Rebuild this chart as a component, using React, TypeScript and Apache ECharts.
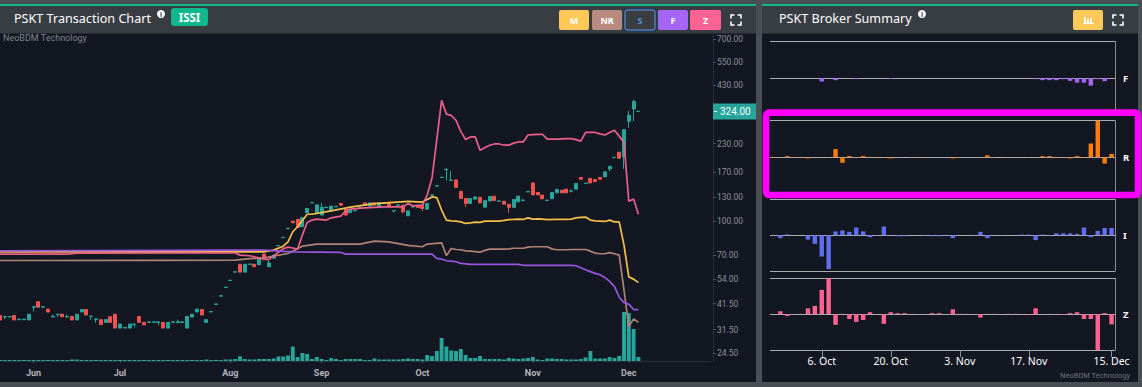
import React, { useEffect, useRef } from "react";
import * as echarts from "echarts";

// ---------- main chart data ----------
const priceTicks = [24.5, 31.5, 41.5, 54, 70, 100, 130, 170, 230, 430, 550, 700];
const monthLabels: Record<number, string> = { 7: "Jun", 25: "Jul", 48: "Aug", 67: "Sep", 88: "Oct", 111: "Nov", 131: "Dec" };
const categoryCount = 149;

// open, close, low, high
const candles = [
  [36.6,34.9,34.9,36.6],[36.0,36.2,35.2,36.2],[36.0,36.2,36.0,36.2],[36.6,34.9,34.9,36.6],[35.0,35.2,35.0,35.2],
  [35.0,35.2,35.0,35.2],[34.9,37.1,34.9,37.1],[40.0,40.2,38.2,40.2],[42.4,40.0,40.0,42.4],[40.0,40.2,40.0,40.2],
  [39.2,38.0,38.0,39.2],[36.0,36.2,36.0,37.0],[36.9,37.1,36.1,37.1],[37.1,36.1,36.1,37.1],[36.0,36.2,36.0,37.0],
  [36.2,34.9,34.9,36.2],[34.9,37.1,34.9,37.1],[38.0,39.0,38.0,39.0],[39.0,36.8,36.8,39.0],[36.2,36.4,34.9,36.4],
  [35.1,35.3,33.8,35.3],[35.0,33.2,33.2,35.0],[34.0,35.0,34.0,35.0],[36.1,34.0,34.0,36.1],[37.1,32.0,32.0,37.1],
  [32.0,33.4,32.0,33.4],[32.0,32.2,32.0,32.2],[32.0,33.4,32.0,33.4],[33.2,33.4,32.2,33.4],[36.2,34.0,34.0,36.2],
  [34.0,33.1,33.1,34.0],[34.0,34.2,34.0,34.2],[34.0,34.2,34.0,34.2],[34.0,34.2,33.0,34.2],[34.0,32.0,32.0,34.0],
  [32.0,34.0,32.0,34.0],[34.0,34.2,34.0,34.2],[34.0,34.2,34.0,35.0],[34.0,34.2,34.0,34.2],[32.0,36.2,32.0,36.2],
  [36.0,37.1,36.0,37.1],[38.0,39.2,38.0,39.2],[39.0,36.8,36.8,39.0],[34.0,35.0,34.0,35.0],[38.0,38.2,38.0,38.2],
  [41.2,41.4,41.2,41.4],[45.0,45.2,45.0,45.2],[49.4,49.6,49.4,49.6],[53.2,53.4,53.2,53.4],[58.2,58.4,58.2,58.4],
  [63.3,58.2,58.2,63.3],[58.2,63.3,58.2,63.3],[63.2,63.5,63.2,63.5],[63.3,61.6,61.6,63.3],[63.0,68.1,63.0,68.1],
  [70.6,67.5,66.0,70.6],[61.6,64.2,61.6,66.0],[67.5,69.9,67.5,69.9],[77.1,77.4,77.1,77.4],[84.1,84.4,84.1,84.4],
  [92.6,93.0,92.6,93.0],[100.5,98.6,98.6,100.5],[102.2,93.8,93.8,102.2],[94.5,104.0,94.5,104.0],[109.8,114.9,109.8,114.9],
  [122.0,122.5,122.0,122.5],[109.8,119.5,109.8,119.5],[107.1,116.2,107.1,122.0],[116.0,116.5,116.0,116.5],[112.0,117.8,112.0,117.8],
  [117.0,117.5,117.0,117.5],[121.2,119.0,119.0,121.2],[113.7,107.1,107.1,113.7],[109.8,113.7,109.8,113.7],[112.0,112.4,112.0,112.4],
  [116.0,116.4,116.0,116.4],[122.0,119.0,119.0,122.0],[117.8,122.0,117.8,122.0],[122.0,119.0,119.0,122.0],[116.2,122.0,116.2,122.0],
  [121.0,121.4,121.0,121.4],[122.0,117.0,117.0,122.0],[112.0,112.4,110.0,112.4],[119.0,119.4,119.0,119.4],[119.0,110.9,109.0,119.0],
  [106.3,112.0,106.3,112.0],[116.8,117.2,116.0,117.2],[119.0,116.2,116.2,119.0],[119.0,114.9,112.0,119.0],[114.0,121.2,114.0,121.2],
  [132.4,132.8,132.4,132.8],[146.0,146.4,146.0,146.4],[160.0,160.5,160.0,160.5],[174.0,175.0,155.0,175.0],[155.0,155.6,155.0,172.0],
  [156.0,144.0,144.0,156.0],[138.0,128.0,128.0,138.0],[127.9,121.2,117.0,127.9],[121.2,127.9,121.2,127.9],[127.0,130.0,127.0,130.0],
  [129.5,122.0,122.0,129.5],[116.5,125.0,116.5,125.0],[124.5,130.5,124.5,130.5],[131.0,125.0,125.0,131.0],[124.1,124.6,124.1,124.6],
  [124.1,120.3,120.3,124.1],[120.3,116.3,109.7,120.3],[116.3,126.5,116.3,126.5],[123.4,131.2,123.4,131.2],[125.0,125.5,125.0,127.5],
  [137.2,137.8,137.2,137.8],[151.0,132.8,132.8,151.0],[136.3,132.8,132.8,136.3],[132.5,127.5,127.5,132.5],[125.1,125.6,125.1,125.6],
  [127.5,136.3,127.5,136.3],[135.8,140.7,135.8,142.0],[139.8,135.8,135.8,139.8],[141.3,135.8,135.8,141.3],[138.2,138.7,136.5,141.0],
  [141.3,150.0,141.3,150.0],[160.1,157.0,157.0,160.1],[150.0,150.6,150.0,150.6],[158.3,151.0,151.0,158.3],[156.5,153.2,153.2,156.5],
  [160.1,157.1,157.1,160.1],[161.2,169.9,161.2,169.9],[175.5,180.4,170.6,180.4],[197.9,198.5,197.9,198.5],[209.6,196.5,196.5,209.6],
  [199.4,266.9,175.5,266.9],[291.8,311.0,272.6,325.8],[332.8,361.0,292.8,367.6],[324.0,325.0,324.0,325.0],
];

const volumes = [
  1,1,1,1,1,1,1,1,1,1,1,1,1,1,1,1.5,1.5,1,1,1,1,1,1,1,1,1,1,1,1,1,
  1,1,1,1,1,1,1,1,1,1,1,1,1,1.5,1,1,1,1.5,1.5,2,4.7,2,1.5,1.5,2,2,2,2.5,4.5,4.5,
  5.5,14.5,4,8,7,2,4,2,1,3,2,1,2,2,2,2,1,1,2.5,1.5,1.5,1.5,1.5,1.5,2,2.5,2,2,1.5,6,
  5,10,23,14.5,10.5,10,12,6,3,3,5,2,2,2,2,1.5,3,2.5,2,2.5,3,4,1.5,1,2.5,2.5,2,2,1.5,1.5,
  1.5,2,3.5,10,2.5,2.5,2.5,4,3,5,49,48,32,4,
];

const yellowLine = [[0,72.3],[55,72.3],[57,73.6],[59,76.8],[60,80.5],[61,89.6],[62,94.5],[64,108],[65,108],[69,112],[73,116.5],[78,121],[85,124],[88,123],[90,130],[91,129],[92,113],[93,101.5],[94,100.7],[95,100.4],[96,99.6],[97,97.9],[98,98.5],[99,99.3],[100,99],[101,100.4],[104,100.4],[105,101.1],[106,101.9],[107,102.2],[108,102.6],[109,102.2],[110,103.9],[111,102.6],[112,102.8],[113,102.6],[114,101.9],[116,102.2],[118,102.2],[119,102.6],[120,103.9],[121,104.4],[122,104.8],[123,101.5],[124,100.7],[125,100.4],[126,100],[127,101.5],[128,99.6],[129,99.6],[130,77.7],[131,55.3],[132,54],[133,52]];
const brownLine = [[0,65.9],[30,66],[49,66.2],[52,67.2],[55,67.7],[60,71],[63,76.8],[66,78.5],[75,78.5],[78,81],[81,80.4],[85,77.5],[88,76.3],[89,78.5],[92,79.6],[93,69.4],[94,74.9],[95,74.1],[96,73.9],[97,73],[98,72.8],[99,72.5],[100,72],[101,73.4],[102,74.4],[105,74.4],[106,74.6],[107,75.1],[109,75.1],[110,76],[111,76.3],[114,76.3],[115,74.6],[116,73.9],[118,73.9],[119,74.1],[122,74.1],[123,72.8],[124,71.3],[125,70.8],[126,70.8],[127,71.7],[128,70.8],[129,69.8],[130,48],[131,32.5],[132,35.3],[133,34]];
const purpleLine = [[0,73],[50,73.6],[55,73.6],[61,72.3],[71,71.8],[72,70.5],[90,70.5],[91,67.4],[92,66.9],[93,65.7],[94,65.5],[95,65],[96,63.9],[97,63.6],[98,63.2],[108,63.2],[109,62.6],[119,62.6],[120,62.3],[121,61],[122,59.7],[123,58.5],[124,57.4],[125,56.6],[126,55],[127,52.7],[128,50],[129,44.5],[130,42],[131,41.3],[132,39],[133,39]];
const pinkLine = [[0,70.5],[14,70.5],[16,71.2],[48,71.4],[49,71.4],[50,69.8],[52,69.3],[55,66.9],[56,66.5],[57,69.1],[58,72],[59,74.8],[60,76],[61,75.3],[62,74.4],[63,86.5],[64,99],[65,101.5],[66,102.6],[68,101.5],[69,104],[71,105.8],[72,112],[73,114.2],[76,115.7],[80,116.9],[84,116.9],[85,121],[86,118.2],[88,119],[89,132.6],[90,159],[91,240],[92,365],[93,315],[94,311],[95,295],[96,262],[97,240],[98,247],[99,247],[100,214],[101,220],[102,226],[103,229],[104,229],[105,226],[106,226],[107,231],[108,234],[109,234],[110,252],[111,253],[112,254],[113,254],[114,241],[115,241],[116,241],[117,242],[118,242.5],[119,242.5],[120,240],[121,236],[122,259],[123,259],[124,259],[125,255],[126,252],[127,259],[128,265],[129,249],[130,233],[131,124],[132,127],[133,108]];

// ---------- broker summary data ----------
const brokerLabels: Record<number, string> = { 7: "6. Oct", 17: "20. Oct", 27: "3. Nov", 37: "17. Nov", 49: "15. Dec" };
const brokerCount = 50;
const fBars = [0,0,0,0,0,0,0,-3.3,0,-2,0,0,-1,0,0,0,0,-0.7,0,0,0,0,0,0,0,0,0,0,0,0,0,0,0,0,0,0,0,0,-1,-2,-2,-2,-1,-2.7,-4.5,-4.5,-7.5,-1,-3,0];
const rBars = [-0.5,0,1.2,0.3,0.4,-1,0,0,0.3,8.3,-5.5,1.3,0.3,1.3,0.3,0.4,0.3,-1,0,0,0.3,0.3,0,0,0,0,-1,0.3,0,0,0,2,0.3,0,0.3,0,0,0.3,0,1.2,1.2,0.4,0.3,-1,1.2,0.3,14,37,-6.3,3.5];
const iBars = [0,-3,1,0,0,-4.5,-9,-22,-35,4,5,3.5,8,4,-2,0.3,9,0,-1,-1,0,0,0.3,-1,-1,0.3,-3,0,0,0.3,3.5,-3,0,0.3,0,0,0.7,0.7,-5,0.7,0.3,2,2,2,1.5,8,-2,4.5,7.5,7.5];
const zBars = [0,3,-2,0,0.3,6,8.5,25,37,-11,0.3,-5,-8,-6,2,0,-10,2,1,1,0.3,0,0,1,1,0,5,0.3,0.3,0,-3.5,0.3,0.3,0,0.3,0.3,0,-0.7,6,0,0.3,0,-0.7,1,2,-5,-5,-37,1,-10.5];

const UI_FONT = "'Noto Sans', sans-serif";
const AXIS_FONT = "Roboto, sans-serif";
const PANEL = "#131722";
const HEADER = "#383c43";
const GAP = "#4a4f56";
const TEAL = "#26a69a";
const RED = "#ef5350";

const categories = Array.from({ length: categoryCount }, (_, i) => monthLabels[i] ?? "");
const brokerCats = Array.from({ length: brokerCount }, (_, i) => brokerLabels[i] ?? "");

function info(x: number, y: number) {
  return [
    { type: "circle", z: 5, shape: { cx: x, cy: y, r: 4 }, style: { fill: "#fff" } },
    { type: "text", z: 6, x, y, style: { text: "i", fill: HEADER, font: `bold 7px ${UI_FONT}`, align: "center", verticalAlign: "middle" } },
  ];
}
function fullscreen(x: number, y: number, s: number) {
  const c = 3.5;
  const pl = (pts: number[][]) => ({ type: "polyline", z: 5, shape: { points: pts }, style: { stroke: "#fff", lineWidth: 1.6, fill: "none" } });
  return [
    pl([[x, y + c], [x, y], [x + c, y]]),
    pl([[x + s - c, y], [x + s, y], [x + s, y + c]]),
    pl([[x, y + s - c], [x, y + s], [x + c, y + s]]),
    pl([[x + s - c, y + s], [x + s, y + s], [x + s, y + s - c]]),
  ];
}
function button(x: number, w: number, fill: string, text: string) {
  return [
    { type: "rect", z: 5, shape: { x, y: 10, width: w, height: 20, r: 2 }, style: { fill } },
    { type: "text", z: 6, x: x + w / 2, y: 20, style: { text, fill: "#fff", font: `bold 9px ${UI_FONT}`, align: "center", verticalAlign: "middle" } },
  ];
}

function brokerGrid(top: number, bottom: number) {
  return { left: 770, width: 345, top, height: bottom - top };
}
function brokerY(gridIndex: number, name: string) {
  return {
    type: "value", gridIndex, position: "right", min: -37, max: 37, interval: 37,
    name, nameLocation: "middle", nameRotate: 0, nameGap: 8,
    nameTextStyle: { color: "#fff", fontSize: 9.5, fontWeight: "bold", fontFamily: UI_FONT },
    axisLine: { show: true, lineStyle: { color: "#8b8f96", width: 1 } },
    axisTick: { show: false }, axisLabel: { show: false },
    splitLine: { show: true, lineStyle: { color: "#a9acb1", width: 1 } },
  };
}
function brokerX(gridIndex: number, labelled: boolean) {
  const pick = (_: number, v: string) => v !== "";
  return {
    type: "category", gridIndex, data: brokerCats, boundaryGap: true, position: "bottom",
    axisLine: { show: false, onZero: false },
    axisTick: labelled ? { show: true, alignWithLabel: true, length: 7, interval: pick, lineStyle: { color: "#8b8f96" } } : { show: false },
    axisLabel: labelled ? { show: true, interval: pick, color: "#fff", fontSize: 10.5, fontFamily: UI_FONT, margin: 5 } : { show: false },
    splitLine: { show: false },
  };
}
function brokerSeries(idx: number, data: number[], color: string) {
  return { type: "bar", xAxisIndex: idx, yAxisIndex: idx + 1, data, barWidth: 4.4, itemStyle: { color }, silent: true };
}
function lineSeries(data: number[][], color: string, name: string) {
  return { type: "line", name, data, xAxisIndex: 0, yAxisIndex: 0, showSymbol: false, symbol: "none", lineStyle: { color, width: 1.7 }, silent: true };
}

export default function App() {
  const ref = useRef<HTMLDivElement | null>(null);
  useEffect(() => {
    document.body.style.margin = "0";
    document.body.style.background = GAP;
    const chart = echarts.init(ref.current!, undefined, { renderer: "svg" });
    const graphics: any[] = [
      // panels
      { type: "rect", z: 0, shape: { x: 0, y: 4, width: 756, height: 378, r: [3, 3, 0, 0] }, style: { fill: PANEL } },
      { type: "rect", z: 0, shape: { x: 0, y: 4, width: 756, height: 29.5 }, style: { fill: HEADER } },
      { type: "rect", z: 0, shape: { x: 0, y: 4, width: 756, height: 2 }, style: { fill: "#10b78c" } },
      { type: "rect", z: 0, shape: { x: 762, y: 4, width: 376, height: 378 }, style: { fill: PANEL } },
      { type: "rect", z: 0, shape: { x: 762, y: 4, width: 376, height: 29.5 }, style: { fill: HEADER } },
      { type: "rect", z: 0, shape: { x: 762, y: 4, width: 376, height: 2 }, style: { fill: "#10b78c" } },
      // left header
      { type: "text", z: 5, x: 14, y: 18, style: { text: "PSKT Transaction Chart", fill: "#fff", font: `12.6px ${UI_FONT}`, verticalAlign: "middle" } },
      ...info(161, 14),
      { type: "rect", z: 5, shape: { x: 171, y: 8, width: 37, height: 18, r: 3 }, style: { fill: "#10b78c" } },
      { type: "text", z: 6, x: 189.5, y: 17.5, style: { text: "ISSI", fill: "#fff", font: `bold 11.5px ${UI_FONT}`, align: "center", verticalAlign: "middle" } },
      ...button(559, 30, "#ffc857", "M"),
      ...button(592, 30, "#b98b7e", "NR"),
      { type: "rect", z: 5, shape: { x: 625, y: 10, width: 30, height: 20, r: 2 }, style: { fill: "none", stroke: "#1d3a5c", lineWidth: 4 } },
      { type: "rect", z: 6, shape: { x: 625, y: 10, width: 30, height: 20, r: 2 }, style: { fill: HEADER, stroke: "#6a9ce0", lineWidth: 1 } },
      { type: "text", z: 7, x: 640, y: 20, style: { text: "S", fill: "#5c8fd6", font: `bold 9px ${UI_FONT}`, align: "center", verticalAlign: "middle" } },
      ...button(658, 30, "#a666f5", "F"),
      ...button(690, 31, "#ff6391", "Z"),
      ...fullscreen(731, 15, 10),
      // right header
      { type: "text", z: 5, x: 779, y: 18, style: { text: "PSKT Broker Summary", fill: "#fff", font: `12.6px ${UI_FONT}`, verticalAlign: "middle" } },
      ...info(922, 14),
      { type: "rect", z: 5, shape: { x: 1073, y: 10, width: 30, height: 20, r: 2 }, style: { fill: "#ffc857" } },
      { type: "rect", z: 6, shape: { x: 1083, y: 23, width: 11, height: 1 }, style: { fill: "#fff" } },
      { type: "rect", z: 6, shape: { x: 1084, y: 17, width: 2, height: 6 }, style: { fill: "#fff" } },
      { type: "rect", z: 6, shape: { x: 1087, y: 19, width: 2, height: 4 }, style: { fill: "#fff" } },
      { type: "rect", z: 6, shape: { x: 1090, y: 18, width: 2, height: 5 }, style: { fill: "#fff" } },
      ...fullscreen(1113, 15, 10),
      // watermarks
      { type: "text", z: 5, x: 3, y: 38, style: { text: "NeoBDM Technology", fill: "#7f838b", font: `9px ${AXIS_FONT}`, verticalAlign: "middle" } },
      { type: "text", z: 5, x: 1130, y: 375.5, style: { text: "NeoBDM Technology", fill: "#6e737b", font: `7.5px ${AXIS_FONT}`, align: "right", verticalAlign: "middle" } },
      // last price tag
      { type: "rect", z: 20, shape: { x: 713, y: 103.5, width: 43, height: 16 }, style: { fill: TEAL } },
      { type: "rect", z: 21, shape: { x: 714, y: 111, width: 3, height: 1 }, style: { fill: "#fff" } },
      { type: "text", z: 21, x: 720, y: 111.5, style: { text: "324.00", fill: "#fff", font: `10px ${AXIS_FONT}`, verticalAlign: "middle" } },
      // highlight frame
      { type: "rect", z: 100, shape: { x: 766, y: 112.6, width: 372, height: 82.4, r: 3 }, style: { fill: "none", stroke: "#ff00ff", lineWidth: 6.6 } },
    ];

    chart.setOption({
      animation: false,
      backgroundColor: GAP,
      textStyle: { fontFamily: AXIS_FONT },
      graphic: { elements: graphics },
      grid: [
        { left: 0, width: 710.4, top: 33.5, height: 327.5 },
        brokerGrid(41.3, 115),
        brokerGrid(120.7, 194),
        brokerGrid(199.5, 271),
        brokerGrid(278.3, 350),
      ],
      xAxis: [
        {
          type: "category", gridIndex: 0, data: categories, boundaryGap: false,
          axisLine: { show: true, lineStyle: { color: "#2b2f3a" } },
          axisTick: { show: true, alignWithLabel: true, length: 2, interval: (_: number, v: string) => v !== "", lineStyle: { color: "#4a4f5a" } },
          axisLabel: { show: true, interval: (_: number, v: string) => v !== "", color: "#b2b5bb", fontSize: 9, fontWeight: "bold", fontFamily: AXIS_FONT, margin: 7 },
          splitLine: { show: false },
        },
        brokerX(1, false), brokerX(2, false), brokerX(3, false), brokerX(4, true),
      ],
      yAxis: [
        {
          type: "log", gridIndex: 0, position: "right", offset: 2.6, logBase: 10, min: 22.5, max: 746,
          axisLine: { show: true, lineStyle: { color: "#2b2f3a" } },
          axisTick: { show: true, length: 3, customValues: priceTicks, lineStyle: { color: "#4a4f5a" } },
          axisLabel: { show: true, customValues: priceTicks, color: "#8c9098", fontSize: 8.5, fontFamily: AXIS_FONT, margin: 4, formatter: (v: number) => Number(v).toFixed(2) },
          splitLine: { show: false }, minorTick: { show: false },
        },
        { type: "value", gridIndex: 0, min: 0, max: 327.5, show: false, splitLine: { show: false } },
        brokerY(1, "F"), brokerY(2, "R"), brokerY(3, "I"), brokerY(4, "Z"),
      ],
      series: [
        { type: "bar", xAxisIndex: 0, yAxisIndex: 1, data: volumes, barWidth: 3.9, itemStyle: { color: TEAL }, silent: true },
        {
          type: "candlestick", xAxisIndex: 0, yAxisIndex: 0, data: candles, barWidth: 3.6, silent: true,
          itemStyle: { color: TEAL, color0: RED, borderColor: TEAL, borderColor0: RED, borderWidth: 1 },
        },
        lineSeries(brownLine, "#b08276", "NR"),
        lineSeries(yellowLine, "#f5c04a", "M"),
        lineSeries(pinkLine, "#ec5f8c", "Z"),
        lineSeries(purpleLine, "#9a55e0", "F"),
        brokerSeries(1, fBars, "#a666f5"),
        brokerSeries(2, rBars, "#ff7d0a"),
        brokerSeries(3, iBars, "#5f6ff0"),
        brokerSeries(4, zBars, "#ff6391"),
      ],
    });
    return () => chart.dispose();
  }, []);
  return <div ref={ref} style={{ width: 1142, height: 387 }} />;
}
